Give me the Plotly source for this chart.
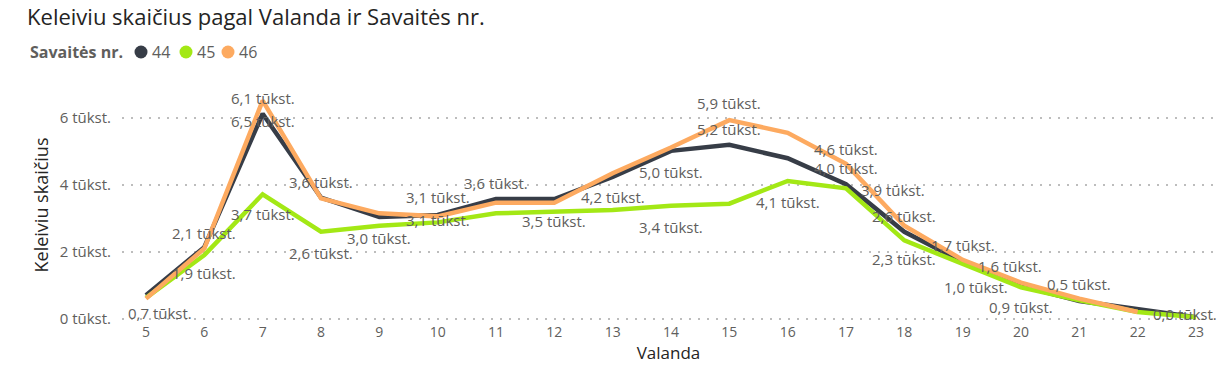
import plotly.graph_objects as go

hours = list(range(5, 24))
week_names = ["44", "45", "46"]
w44 = [0.7, 2.14, 6.13, 3.62, 3.04, 3.1, 3.58, 3.58, 4.24, 5.02, 5.2, 4.8, 4.02, 2.6, 1.7, 0.98, 0.53, 0.27, 0.04]
w45 = [0.62, 1.9, 3.72, 2.6, 2.78, 2.88, 3.15, 3.2, 3.25, 3.38, 3.44, 4.12, 3.9, 2.34, 1.63, 0.94, 0.55, 0.2, 0.04]
w46 = [0.6, 2.1, 6.52, 3.6, 3.15, 3.06, 3.47, 3.47, 4.35, 5.12, 5.94, 5.56, 4.63, 2.78, 1.76, 1.08, 0.6, 0.2, None]
colors = ["#373D47", "#A3E815", "#FDAA60"]

# which hours carry a data label, and the label's pixel offset (dx, dy) from its point
labels44 = {5: (14, 18), 6: (0, -14), 7: (0, -16), 8: (0, -16), 9: (0, 21), 10: (0, -18),
            11: (0, -16), 13: (0, 20), 14: (0, 21), 15: (0, -16), 17: (0, -16), 18: (0, -16),
            19: (0, -17), 20: (-45, 1), 21: (0, -17)}
labels45 = {6: (0, 18), 7: (0, 20), 8: (0, 21), 14: (0, 21), 16: (0, 21), 17: (47, 2),
            18: (0, 19), 19: (47, 2), 20: (0, 20), 23: (-11, -3)}
labels46 = {7: (0, 20), 10: (0, 4), 12: (0, 18), 15: (0, -17), 17: (0, -15)}

ytick_vals = [0, 2, 4, 6]
FONT = "Segoe UI, Open Sans, sans-serif"

# layout geometry (pixels)
W, H = 1231, 375
ML, MR, MT, MB = 122, 16, 88, 53
PW, PH = W - ML - MR, H - MT - MB


def px2x(px):
    return (px - ML) / PW


def py2y(py):
    return (H - MB - py) / PH


def fmt(v):
    return f"{v:.1f}".replace(".", ",") + " tūkst."


fig = go.Figure()
annotations = []
for name, vals, col, lab in zip(week_names, [w44, w45, w46], colors, [labels44, labels45, labels46]):
    fig.add_trace(go.Scatter(
        x=hours, y=vals, mode="lines", name=name,
        line=dict(color=col, width=4.5),
        showlegend=False, hoverinfo="x+y",
    ))
    for h, v in zip(hours, vals):
        if v is None or h not in lab:
            continue
        dx, dy = lab[h]
        annotations.append(dict(
            x=h, y=v, xref="x", yref="y", text=fmt(v), showarrow=False,
            xanchor="center", yanchor="middle", xshift=dx, yshift=-dy,
            font=dict(family=FONT, size=15, color="#605E5C"),
        ))

# legend drawn as title + coloured dots + names
legend_y = py2y(52)
annotations.append(dict(
    x=px2x(28), y=legend_y, xref="paper", yref="paper", text="<b>Savaitės nr.</b>",
    showarrow=False, xanchor="left", yanchor="middle",
    font=dict(family=FONT, size=16, color="#605E5C"),
))
shapes = []
dot_centers = [141, 186, 228]
for name, col, cx in zip(week_names, colors, dot_centers):
    shapes.append(dict(
        type="circle", xref="paper", yref="paper",
        x0=px2x(cx - 6.5), x1=px2x(cx + 6.5), y0=py2y(52 + 6.5), y1=py2y(52 - 6.5),
        fillcolor=col, line=dict(width=0),
    ))
    annotations.append(dict(
        x=px2x(cx + 9), y=legend_y, xref="paper", yref="paper", text=name,
        showarrow=False, xanchor="left", yanchor="middle",
        font=dict(family=FONT, size=16, color="#605E5C"),
    ))

fig.update_layout(
    width=W, height=H,
    margin=dict(l=ML, r=MR, t=MT, b=MB),
    paper_bgcolor="white", plot_bgcolor="white",
    showlegend=False,
    title=dict(text="Keleiviu skaičius pagal Valanda ir Savaitės nr.",
               x=0.022, xanchor="left", y=0.955, yanchor="middle",
               font=dict(family="Open Sans, sans-serif", size=22, color="#252423")),
    annotations=annotations,
    shapes=shapes,
    xaxis=dict(title=dict(text="Valanda", font=dict(family=FONT, size=17, color="#252423"),
                          standoff=7),
               range=[4.589, 23.326], tickmode="array", tickvals=hours, ticktext=[str(h) for h in hours],
               tickfont=dict(family=FONT, size=14, color="#605E5C"),
               showgrid=False, zeroline=False, showline=False, ticks=""),
    yaxis=dict(title=dict(text="Keleiviu skaičius", font=dict(family=FONT, size=18, color="#252423"),
                          standoff=6),
               range=[-0.1, 6.9], tickmode="array", tickvals=ytick_vals,
               ticktext=[f"{v} tūkst." for v in ytick_vals],
               tickfont=dict(family=FONT, size=15, color="#605E5C"),
               showgrid=True, gridcolor="#BDBDBD", griddash="2px,7px", gridwidth=1.5,
               zeroline=False, showline=False, ticks="", ticklabelstandoff=10),
)

fig.write_html("out.html", config={"displayModeBar": False},
               post_script="document.body.style.margin='0';document.body.style.overflow='hidden';")
